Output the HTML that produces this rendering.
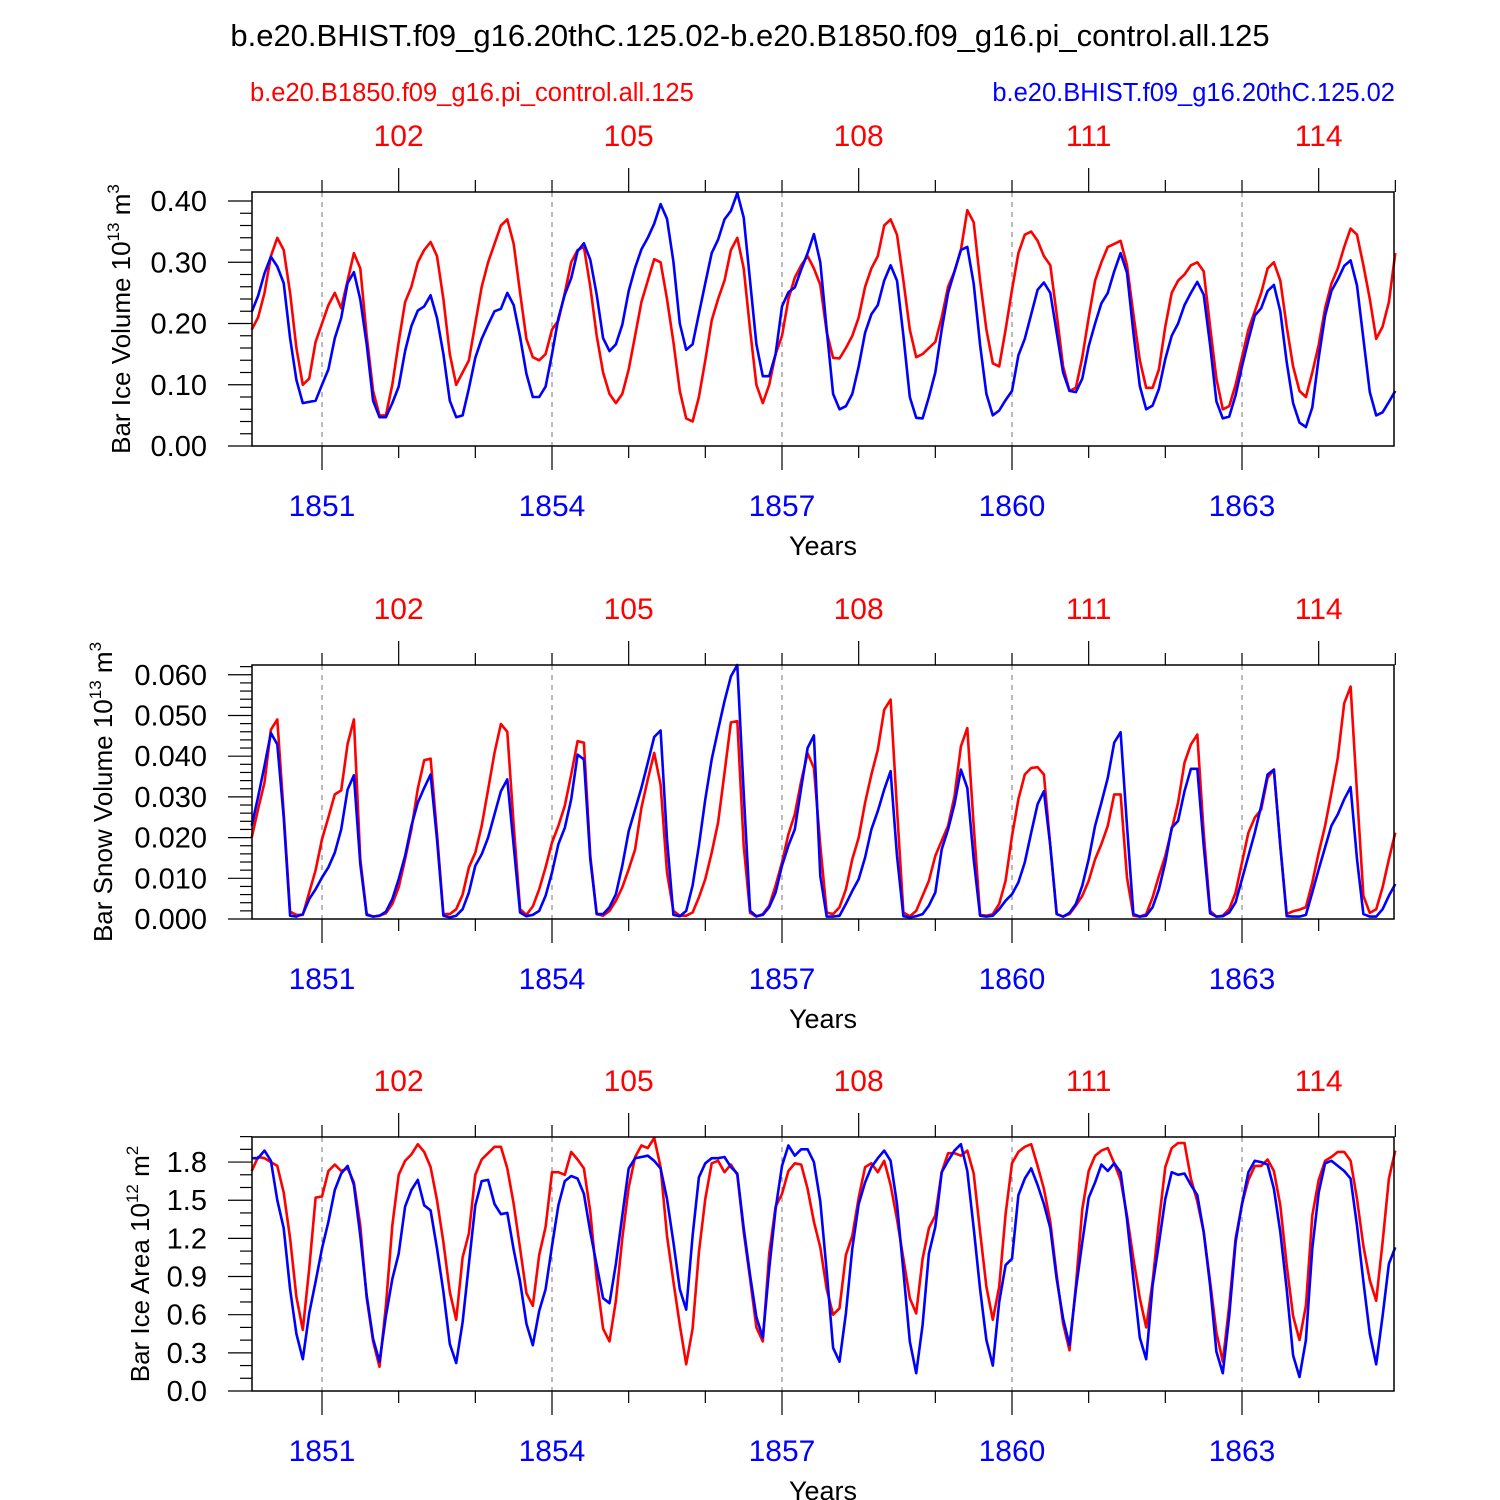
<!DOCTYPE html>
<html><head><meta charset="utf-8">
<style>
html,body{margin:0;padding:0;background:#fff;}
svg{display:block;font-family:"Liberation Sans",sans-serif;}
</style></head>
<body>
<svg id="chart" width="1500" height="1500" viewBox="0 0 1500 1500" xmlns="http://www.w3.org/2000/svg">
<rect width="1500" height="1500" fill="#fff"/>
<text x="750" y="46" font-size="31" text-anchor="middle">b.e20.BHIST.f09_g16.20thC.125.02-b.e20.B1850.f09_g16.pi_control.all.125</text>
<text x="250" y="101" font-size="25.5" fill="#ff0000">b.e20.B1850.f09_g16.pi_control.all.125</text>
<text x="1395" y="101" font-size="25.5" fill="#0000ff" text-anchor="end">b.e20.BHIST.f09_g16.20thC.125.02</text>
</svg>
<script>
const bottomYears = [1851, 1854, 1857, 1860, 1863];
const topYears = [102, 105, 108, 111, 114];
const volTicks = ["0.00","0.10","0.20","0.30","0.40"];
const snowTicks = ["0.000","0.010","0.020","0.030","0.040","0.050","0.060"];
const areaTicks = ["0.0","0.3","0.6","0.9","1.2","1.5","1.8"];

const volRed = [.19,.21,.25,.31,.34,.32,.25,.16,.10,.11,.17,.20,.23,.25,.225,.27,.315,.29,.18,.09,.05,.05,.10,.17,.235,.26,.30,.32,.333,.31,.24,.15,.10,.12,.14,.20,.26,.30,.33,.36,.37,.33,.25,.175,.145,.14,.15,.19,.205,.25,.30,.32,.325,.26,.18,.12,.085,.07,.085,.125,.18,.235,.27,.305,.30,.24,.17,.09,.045,.04,.08,.14,.205,.24,.27,.32,.34,.29,.19,.10,.07,.10,.15,.18,.24,.275,.295,.31,.29,
.263,.186,.144,.143,.16,.18,.21,.26,.29,.31,.36,.37,.345,.27,.19,.145,.15,.16,.17,.21,.26,.285,.32,.385,.365,.27,.19,.135,.13,.19,.255,.315,.345,.35,.335,.31,.295,.215,.13,.09,.095,.145,.21,.27,.30,.325,.33,.335,.295,.215,.14,.095,.095,.125,.195,.25,.27,.28,.295,.30,.285,.195,.11,.06,.065,.10,.145,.19,.22,.25,.29,.30,.27,.195,.13,.09,.08,.12,.165,.225,.265,.29,.325,.355,.345,.295,.24,.175,.195,.235,.315];
const volBlue = [.219,.245,.282,.309,.293,.266,.176,.108,.07,.072,.074,.10,.125,.176,.209,.266,.284,.239,.166,.074,.047,.047,.07,.097,.155,.196,.221,.228,.246,.209,.15,.074,.047,.05,.094,.144,.175,.198,.22,.224,.25,.23,.178,.118,.08,.08,.097,.15,.209,.247,.274,.318,.331,.304,.247,.176,.155,.166,.198,.253,.291,.321,.34,.363,.395,.371,.301,.2,.157,.166,.216,.266,.315,.337,.37,.384,.413,.373,.269,.166,.114,.114,.15,.228,.251,.259,.288,.315,.346,
.30,.19,.085,.06,.065,.085,.13,.185,.215,.23,.27,.295,.27,.18,.08,.046,.045,.08,.12,.19,.25,.285,.32,.325,.265,.165,.085,.05,.058,.075,.09,.148,.175,.215,.255,.267,.25,.185,.12,.09,.088,.11,.163,.2,.233,.25,.285,.315,.283,.185,.098,.06,.066,.093,.142,.18,.2,.23,.25,.268,.247,.165,.073,.045,.048,.083,.13,.173,.213,.225,.253,.263,.22,.137,.07,.038,.031,.063,.144,.213,.253,.272,.294,.303,.262,.175,.088,.05,.055,.072,.09];

const snowRed = [20,27,33.5,46.5,49,26,1.8,1,1,6.5,12,19.6,25,30.6,31.6,43,49,14.7,1.2,0.6,0.8,1.4,3.7,7.8,14.7,22,32,39,39.4,21,1.2,1.2,2.4,6,12.7,16.3,22.9,31.8,40.8,47.9,46,23,2.4,1,3.1,7.3,12.7,18.8,22.9,27.8,35.5,43.7,43.3,15.5,1.2,0.8,2,4.5,7.8,12.2,17.1,27.3,34.3,40.8,33,11.4,2,0.8,0.8,1.6,5.3,9.8,16.3,23.7,35.9,48.3,48.6,18,1.5,0.6,1.2,3.3,8.2,13.9,20.8,25.7,33.9,40.7,37.1,
18,1.6,1.2,2.9,7.3,14.7,20,28.6,35.5,41.6,51.4,53.9,27,1.6,0.7,2,5.7,9.4,15.5,19.2,22.9,30.2,42.4,46.9,22.9,1,0.8,1.2,3.7,9.4,20.4,29.4,35.5,37.1,37.3,35.5,18,1.2,0.6,1.2,3.3,5.7,9.4,14.7,18.4,22.9,30.6,30.6,10.2,0.8,0.6,1.2,5.3,10.6,15.5,22,28.6,38.4,42.9,45.3,21.2,2,0.6,0.8,2.4,6.5,13.9,21.2,24.9,26.9,34.7,36.7,18,1.2,1.9,2.3,2.9,9,16.3,22.9,31,39.6,53,57.1,31,5.7,1.5,2.4,7.8,14.7,21.2];
const snowBlue = [22.9,30,37.6,45.7,42.9,25,0.8,0.6,1.2,4.9,7.3,10.2,12.7,16.3,22,31.8,35.3,13.5,1,0.6,0.8,1.8,4.9,9.8,15.5,22.9,28.6,32.2,35.5,19.6,0.8,0.4,0.8,2.4,6.5,13.1,15.9,20,25.7,31.4,34.3,18,1.6,0.7,1,2,5.7,11.4,18.4,22.4,29.4,40.4,39.2,14.7,1.2,1.2,2.9,6.1,13.1,21.6,26.9,32.2,38.4,44.7,46.3,19.6,1,0.7,2,8.2,18,29.4,39.2,46.5,53.5,59.6,62.4,31,2,0.7,1,2.9,6.5,13.1,18,22,32.2,42,45.1,
10.6,0.6,0.6,0.8,3.7,6.9,9.8,15.1,22,26.5,31.8,36.3,15.5,0.7,0.4,0.7,1.2,3.3,6.5,17.1,22,28.2,36.7,32.2,14.7,0.8,0.6,0.8,2.4,4.5,6.1,9,13.9,21.2,28.2,31.4,18,1.2,0.6,1.5,3.7,8.2,14.7,22.9,28.6,34.7,43.3,45.9,22.9,1.2,0.6,0.8,2.9,7.3,13.9,22.4,24.1,31.4,36.9,36.9,18,1.4,0.6,0.7,1.6,4.1,9.8,15.5,21.2,27.8,35.5,36.7,18,0.7,0.6,0.6,1,6.5,12.2,17.6,22.9,25.7,29.4,32.4,14.7,1.2,0.6,0.6,2.4,5.7,8.6];

const areaRed = [1.73,1.84,1.83,1.80,1.77,1.56,1.20,0.74,0.48,0.96,1.52,1.53,1.73,1.78,1.73,1.75,1.64,1.30,0.73,0.39,0.19,0.67,1.30,1.70,1.81,1.86,1.94,1.88,1.76,1.50,1.17,0.78,0.56,1.05,1.24,1.70,1.82,1.87,1.92,1.92,1.75,1.47,1.12,0.77,0.67,1.07,1.29,1.72,1.72,1.70,1.88,1.82,1.75,1.41,0.88,0.49,0.39,0.71,1.20,1.60,1.84,1.93,1.91,1.99,1.76,1.22,0.86,0.52,0.21,0.49,1.09,1.51,1.79,1.81,1.72,1.78,1.70,1.25,0.88,0.50,0.39,1.08,1.45,1.55,1.73,1.79,1.78,1.59,1.33,
1.13,0.80,0.60,0.65,1.07,1.22,1.52,1.76,1.79,1.72,1.81,1.62,1.35,1.04,0.73,0.61,1.04,1.28,1.38,1.72,1.87,1.87,1.85,1.89,1.71,1.25,0.82,0.56,0.82,1.39,1.79,1.88,1.92,1.94,1.77,1.59,1.33,0.91,0.53,0.32,0.83,1.43,1.73,1.85,1.89,1.91,1.79,1.66,1.38,1.04,0.73,0.50,0.86,1.33,1.76,1.91,1.95,1.95,1.67,1.49,1.25,0.86,0.46,0.23,0.67,1.20,1.47,1.66,1.77,1.77,1.82,1.73,1.46,0.99,0.59,0.40,0.67,1.38,1.66,1.81,1.84,1.88,1.88,1.81,1.51,1.14,0.87,0.71,1.17,1.67,1.89];
const areaBlue = [1.83,1.83,1.89,1.81,1.50,1.28,0.80,0.45,0.25,0.61,0.86,1.12,1.33,1.58,1.71,1.77,1.62,1.22,0.75,0.41,0.23,0.59,0.88,1.08,1.45,1.58,1.66,1.46,1.42,1.12,0.78,0.37,0.22,0.54,1.00,1.46,1.65,1.66,1.47,1.39,1.40,1.11,0.86,0.53,0.36,0.63,0.80,1.14,1.46,1.65,1.69,1.67,1.55,1.25,0.99,0.73,0.69,1.00,1.38,1.75,1.83,1.84,1.85,1.81,1.75,1.51,1.17,0.80,0.64,1.22,1.68,1.79,1.83,1.83,1.84,1.76,1.71,1.28,0.91,0.58,0.42,0.96,1.43,1.77,1.93,1.85,1.90,1.90,1.80,
1.49,0.94,0.34,0.23,0.61,1.12,1.47,1.64,1.76,1.83,1.89,1.81,1.47,0.94,0.39,0.14,0.52,1.08,1.29,1.72,1.81,1.89,1.94,1.73,1.28,0.80,0.40,0.20,0.70,0.99,1.04,1.54,1.67,1.75,1.62,1.47,1.28,0.88,0.57,0.36,0.80,1.17,1.52,1.64,1.78,1.73,1.79,1.72,1.35,0.88,0.42,0.25,0.83,1.16,1.51,1.72,1.70,1.71,1.62,1.54,1.25,0.83,0.31,0.14,0.59,1.17,1.47,1.72,1.81,1.80,1.78,1.59,1.25,0.80,0.28,0.11,0.40,1.12,1.56,1.79,1.81,1.77,1.73,1.67,1.30,0.86,0.45,0.21,0.59,1.00,1.13];

const NS = "http://www.w3.org/2000/svg";
const svg = document.getElementById("chart");
const X0 = 252, X1 = 1394, YEARPX = 230/3, YEAR_ORIGIN = 322 - YEARPX*1851;
function xYear(t){ return YEAR_ORIGIN + YEARPX*t; }
function xMonth(i){ return xYear(1850 + (i+1)/12); }
function mk(tag, attrs, parent){
  const e = document.createElementNS(NS, tag);
  for (const k in attrs) e.setAttribute(k, attrs[k]);
  (parent||svg).appendChild(e);
  return e;
}

function panel(top, ymax, majorStep, minorStep, ticks, redData, blueData, titleParts, nameKey){
  const bot = top + 254;
  const y = v => bot - (v/ymax)*254;
  const g = mk("g", {});
  
  
  bottomYears.forEach(yr => {
    const l = mk("line", {x1:xYear(yr), x2:xYear(yr), y1:top, y2:bot, stroke:"#777", "stroke-width":1, "stroke-dasharray":"5,5"}, g);
    
    
  });
  [[redData,"#ff0000","control-series"],[blueData,"#0000ff","historical-series"]].forEach(([d,c,n]) => {
    const pl = mk("polyline", {points: d.map((v,i)=>xMonth(i).toFixed(1)+","+y(v).toFixed(1)).join(" "), fill:"none", stroke:c, "stroke-width":2.6, "stroke-linejoin":"round"}, g);
    
    
  });
  const fr = mk("rect", {x:X0, y:top, width:X1-X0, height:254, fill:"none", stroke:"#000", "stroke-width":1.5}, g);
  
  
  const nMinor = Math.round(ymax/minorStep);
  for (let k=0;k<=nMinor;k++){
    const v = k*minorStep; const yy = y(v);
    if (yy < top-0.5) continue;
    const major = Math.abs(v/majorStep - Math.round(v/majorStep)) < 1e-6;
    mk("line", {x1:X0-(major?24:12), x2:X0, y1:yy, y2:yy, stroke:"#000", "stroke-width":1.2}, g);
  }
  ticks.forEach((lab,k) => {
    const yy = y(k*majorStep);
    const t = mk("text", {x:207, y:yy+10, "font-size":29, "text-anchor":"end"}, g);
    t.textContent = lab;
    
    
  });
  for (let yr=1851; yr<=1864; yr++){
    const xx = xYear(yr); const major = bottomYears.includes(yr);
    mk("line", {x1:xx, x2:xx, y1:bot, y2:bot+(major?24:12), stroke:"#000", "stroke-width":1.2}, g);
    mk("line", {x1:xx+YEARPX, x2:xx+YEARPX, y1:top, y2:top-(bottomYears.includes(yr)?24:12), stroke:"#000", "stroke-width":1.2}, g);
  }
  mk("line", {x1:xYear(1851), x2:xYear(1851), y1:top, y2:top-12, stroke:"#000", "stroke-width":1.2}, g);
  bottomYears.forEach(yr => {
    const t = mk("text", {x:xYear(yr), y:bot+70, "font-size":30, fill:"#0000ff", "text-anchor":"middle"}, g);
    t.textContent = yr;
    
    
  });
  topYears.forEach(yr => {
    const t = mk("text", {x:xYear(yr+1750), y:top-46, "font-size":30, fill:"#ff0000", "text-anchor":"middle"}, g);
    t.textContent = yr;
    
    
  });
  const xt = mk("text", {x:823, y:bot+109, "font-size":27, "text-anchor":"middle"}, g);
  xt.textContent = "Years";
  
  
  const cy = top+127;
  const yt = mk("text", {transform:`translate(${titleParts[3]},${cy}) rotate(-90)`, "font-size":26, "text-anchor":"middle"}, g);
  
  
  const s1 = mk("tspan", {}, yt); s1.textContent = titleParts[0];
  const s2 = mk("tspan", {"font-size":17, dy:-11}, yt); s2.textContent = titleParts[1];
  const s3 = mk("tspan", {dy:11}, yt); s3.textContent = " m";
  const s4 = mk("tspan", {"font-size":17, dy:-11}, yt); s4.textContent = titleParts[2];
}

panel(192, 0.4147, 0.1, 0.02, volTicks, volRed, volBlue, ["Bar Ice Volume 10","13","3",130], "ice-volume");
panel(665, 62.4, 10, 2, snowTicks, snowRed, snowBlue, ["Bar Snow Volume 10","13","3",112], "snow-volume");
panel(1137, 1.997, 0.3, 0.1, areaTicks, areaRed, areaBlue, ["Bar Ice Area 10","12","2",149], "ice-area");
</script>
</body></html>
